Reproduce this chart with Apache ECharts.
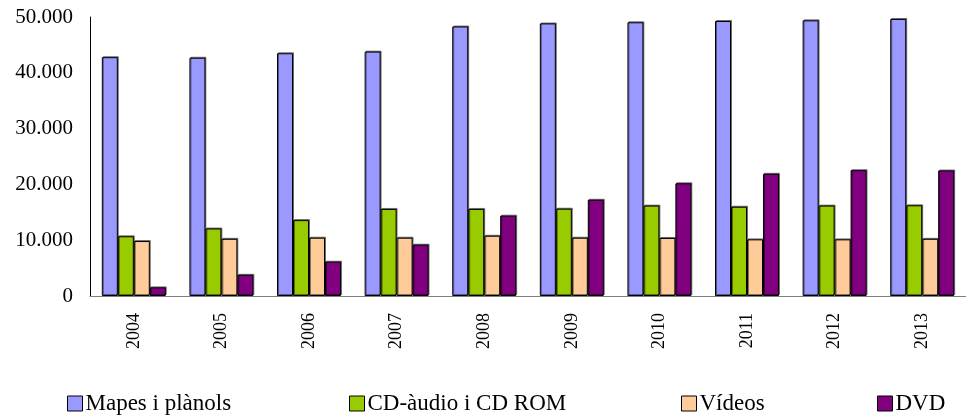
<!DOCTYPE html>
<html>
<head>
<meta charset="utf-8">
<script src="https://cdn.jsdelivr.net/npm/echarts@6/dist/echarts.min.js"></script>
<style>
html,body{margin:0;padding:0;background:#fff;}
#c{width:966px;height:416px;}
</style>
</head>
<body>
<div id="c"></div>
<script>
var years = ['2004','2005','2006','2007','2008','2009','2010','2011','2012','2013'];
var seriesNames = ['Mapes i plànols','CD-àudio i CD ROM','Vídeos','DVD'];
var mapes  = [42800, 42700, 43500, 43800, 48300, 48850, 49050, 49280, 49400, 49650];
var cdrom  = [10700, 12100, 13600, 15600, 15600, 15650, 16200, 16000, 16200, 16250];
var videos = [9850, 10250, 10450, 10450, 10800, 10450, 10400, 10150, 10150, 10250];
var dvd    = [1550, 3800, 6150, 9200, 14400, 17250, 20200, 21900, 22550, 22500];
var yTicks = [0, 10000, 20000, 30000, 40000, 50000];
var colors = ['#9999FF','#99CC00','#FFCC99','#800080'];
var legendLefts = [67, 349, 681, 877];

var font = 'Liberation Serif';
var chart = echarts.init(document.getElementById('c'));
var data = [mapes, cdrom, videos, dvd];
chart.setOption({
  animation: false,
  backgroundColor: '#fff',
  grid: {left: 90, right: 0, top: 17, bottom: 120, containLabel: false},
  legend: seriesNames.map(function(n, i){
    return {
      left: legendLefts[i], top: 392, padding: 0,
      itemWidth: 15, itemHeight: 15,
      icon: 'rect',
      textStyle: {fontFamily: font, fontSize: 23, lineHeight: 23, color: '#000', padding: [0,0,0,-2]},
      data: [{name: n, itemStyle: {color: colors[i], borderColor: '#000', borderWidth: 1}}]
    };
  }),
  xAxis: {
    type: 'category', data: years,
    axisLine: {lineStyle: {color: '#808080', width: 1}},
    axisTick: {show: false},
    axisLabel: {rotate: 90, margin: 17, fontFamily: font, fontSize: 18, color: '#000'}
  },
  yAxis: {
    type: 'value', min: yTicks[0], max: yTicks[yTicks.length-1], interval: 10000,
    axisLine: {show: true, lineStyle: {color: '#000', width: 1}},
    axisTick: {show: false},
    splitLine: {show: false},
    axisLabel: {
      margin: 17, fontFamily: font, fontSize: 21, color: '#000',
      formatter: function(v){ return v === 0 ? '0' : String(v).replace(/\B(?=(\d{3})+(?!\d))/g, '.'); }
    }
  },
  series: seriesNames.map(function(n, i){
    return {
      name: n, type: 'bar', data: data[i],
      barGap: '0%', barCategoryGap: '27%',
      itemStyle: {color: colors[i], borderColor: '#000', borderWidth: 1,
        shadowColor: 'rgba(0,0,0,0.45)', shadowOffsetX: 1, shadowOffsetY: -1, shadowBlur: 0}
    };
  })
});
</script>
</body>
</html>
